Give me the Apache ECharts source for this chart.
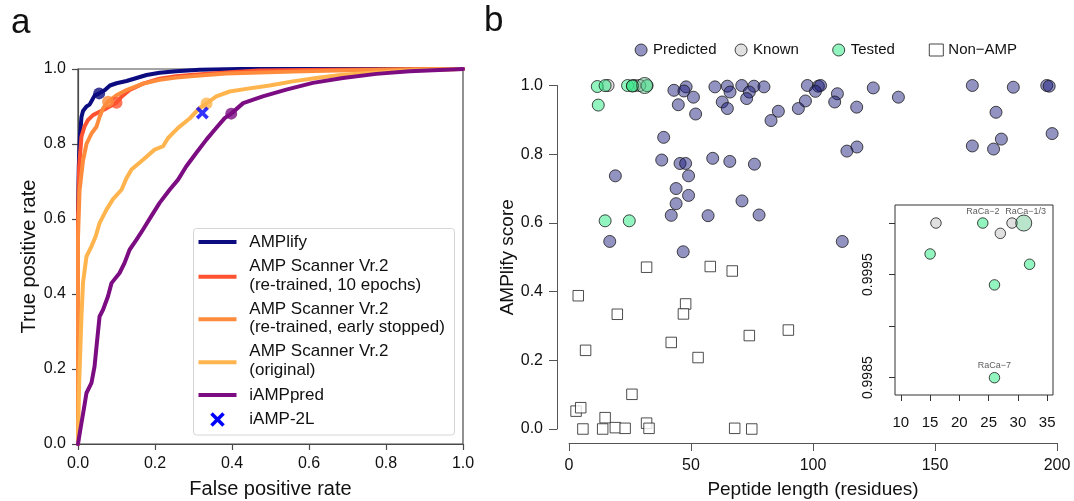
<!DOCTYPE html>
<html><head><meta charset="utf-8">
<script src="https://cdn.jsdelivr.net/npm/echarts@6/dist/echarts.min.js"></script>
<style>html,body{margin:0;padding:0;background:#fff}#c{width:1074px;height:501px}</style>
</head><body><div id="c"></div>
<script>
const FONT = '"Liberation Sans", Arial, Helvetica, sans-serif';

// ---------- Panel a : ROC curves ----------
const rocAmplify = [[0,0],[0,0.62],[0.002,0.74],[0.005,0.82],[0.009,0.872],[0.013,0.888],[0.022,0.9],[0.03,0.905],[0.035,0.914],[0.043,0.929],[0.055,0.935],[0.07,0.944],[0.083,0.956],[0.1,0.962],[0.126,0.968],[0.152,0.976],[0.178,0.984],[0.212,0.99],[0.255,0.994],[0.316,0.998],[0.42,1],[1,1]];
const rocScanner10 = [[0,0],[0,0.6],[0.003,0.74],[0.009,0.82],[0.017,0.847],[0.026,0.864],[0.039,0.877],[0.056,0.886],[0.074,0.895],[0.1,0.91],[0.113,0.926],[0.134,0.944],[0.169,0.961],[0.212,0.974],[0.255,0.981],[0.3,0.985],[0.385,0.991],[0.47,0.996],[0.65,0.998],[1,1]];
const rocScannerEarly = [[0,0],[0,0.55],[0.004,0.676],[0.013,0.756],[0.022,0.8],[0.035,0.828],[0.048,0.846],[0.056,0.872],[0.065,0.895],[0.078,0.913],[0.1,0.93],[0.126,0.944],[0.169,0.961],[0.212,0.971],[0.255,0.977],[0.3,0.981],[0.385,0.988],[0.558,0.993],[0.73,0.997],[0.905,1],[1,1]];
const rocScannerOrig = [[0,0],[0.003,0.163],[0.009,0.34],[0.013,0.43],[0.022,0.5],[0.035,0.527],[0.046,0.554],[0.056,0.589],[0.074,0.625],[0.091,0.653],[0.113,0.678],[0.126,0.709],[0.139,0.732],[0.169,0.758],[0.199,0.785],[0.221,0.794],[0.234,0.816],[0.26,0.843],[0.29,0.868],[0.316,0.896],[0.334,0.908],[0.359,0.927],[0.394,0.94],[0.437,0.947],[0.498,0.956],[0.558,0.967],[0.619,0.976],[0.688,0.985],[0.775,0.991],[0.861,0.996],[1,1]];
const rocIampred = [[0,0],[0.006,0.038],[0.015,0.092],[0.022,0.136],[0.035,0.163],[0.043,0.207],[0.049,0.269],[0.056,0.34],[0.065,0.358],[0.078,0.394],[0.087,0.429],[0.108,0.456],[0.121,0.483],[0.134,0.518],[0.152,0.545],[0.169,0.572],[0.19,0.607],[0.212,0.643],[0.238,0.678],[0.26,0.705],[0.281,0.74],[0.307,0.776],[0.333,0.811],[0.355,0.838],[0.381,0.869],[0.398,0.881],[0.429,0.909],[0.48,0.927],[0.541,0.945],[0.61,0.963],[0.688,0.976],[0.775,0.987],[0.861,0.994],[1,1]];
const markAmplify = [0.055,0.935];
const markScanner10 = [0.1,0.91];
const markScannerEarly = [0.078,0.913];
const markScannerOrig = [0.334,0.908];
const markIampred = [0.398,0.881];
const pointIamp2l = [0.323,0.883];
const rocTicks = [0,0.2,0.4,0.6,0.8,1.0];
const legendNamesA = ['AMPlify','AMP Scanner Vr.2\n(re-trained, 10 epochs)','AMP Scanner Vr.2\n(re-trained, early stopped)','AMP Scanner Vr.2\n(original)','iAMPpred','iAMP-2L'];

// ---------- Panel b : AMPlify score vs length ----------
const predicted = [[43.0,0.986],[48.0,0.996],[47.1,0.984],[51.0,0.966],[44.8,0.944],[51.9,0.917],[59.8,0.996],[64.9,0.998],[66.0,0.981],[70.8,1.0],[75.8,0.998],[73.9,0.981],[79.9,0.996],[62.8,0.952],[64.9,0.933],[72.8,0.962],[85.8,0.925],[82.8,0.898],[94.0,0.933],[96.9,0.955],[97.7,1.0],[102.2,0.998],[103.1,1.0],[101.0,0.983],[110.0,0.976],[108.9,0.952],[117.9,0.937],[124.7,0.993],[135.0,0.966],[165.3,1.0],[182.1,0.995],[195.8,1.0],[196.8,0.998],[175.0,0.922],[177.2,0.844],[165.3,0.824],[174.0,0.815],[198.0,0.86],[38.8,0.849],[38.0,0.783],[45.5,0.773],[47.8,0.773],[58.9,0.788],[65.9,0.779],[76.0,0.771],[113.9,0.809],[118.0,0.821],[19.0,0.737],[49.0,0.737],[43.9,0.70],[49.0,0.68],[43.9,0.656],[70.9,0.664],[41.9,0.622],[57.0,0.621],[77.9,0.623],[16.7,0.546],[112.0,0.546],[46.8,0.516]];
const known = [[16,1.0],[27,0.9999],[29,1.0]];
const tested = [[11.6,0.997],[14.8,0.9997],[24,1.0],[26,0.9994],[26,0.9985],[32,0.9996],[12,0.943],[14.8,0.606],[24.7,0.606]];
const testedHighlight = [[31,1.0]];
const nonAmp = [[31.8,0.471],[57.9,0.473],[66.9,0.46],[3.8,0.388],[19.8,0.334],[47.8,0.364],[46.9,0.335],[6.8,0.229],[41.9,0.252],[52.9,0.208],[73.9,0.272],[89.9,0.288],[25.8,0.101],[2.9,0.052],[4.8,0.062],[5.7,0.0],[14.8,0.033],[13.8,0.0],[19,0.004],[23,0.002],[31.8,0.017],[32.8,0.002],[67.9,0.002],[74.9,0.0]];
const lengthTicks = [0,50,100,150,200];
const scoreTicks = [0,0.2,0.4,0.6,0.8,1.0];
// inset (zoom on the top-scoring short peptides)
const insetKnown = [[16,1.0],[27,0.9999],[29,1.0]];
const insetTested = [[15,0.9997],[24,1.0],[26,0.9994],[26,0.9985],[32,0.9996]];
const insetTestedLabels = ['', 'RaCa\u22122', '', 'RaCa\u22127', ''];
const insetHighlight = [[31,1.0]];
const insetHighlightLabels = ['RaCa\u22121/3'];
const insetXTicks = [10,15,20,25,30,35];
const insetYTicks = [0.9985,0.999,0.9995,1.0];
const insetYLabels = [0.9985,0.9995];

const COL = {
  amplify:'#0c0c80', s10:'#ff5230', early:'#ff8c3c', orig:'#ffb44e', iamp:'#7c0c82', x:'#0000ff',
  pred:'rgba(18,18,120,0.57)', known:'rgba(190,190,190,0.6)', tested:'rgba(60,235,140,0.7)', big:'rgba(80,190,130,0.5)'
};
const AX = '#4a4a4a';

const chart = echarts.init(document.getElementById('c'), null, {renderer:'canvas'});

function rocLine(name, data, color){
  return {type:'line', name, xAxisIndex:0, yAxisIndex:0, data, showSymbol:false, symbol:'none',
    lineStyle:{color, width:4, join:'round', cap:'round'}, itemStyle:{color}, z:3, silent:true, animation:false};
}
function rocMark(data, color){
  return {type:'scatter', xAxisIndex:0, yAxisIndex:0, data:[data], symbolSize:12, itemStyle:{color}, z:4, silent:true, animation:false};
}
const border = {borderColor:'#1a1a1a', borderWidth:1};

const series = [
  rocLine('AMPlify', rocAmplify, COL.amplify),
  rocLine('Scanner10', rocScanner10, COL.s10),
  rocLine('ScannerEarly', rocScannerEarly, COL.early),
  rocLine('ScannerOrig', rocScannerOrig, COL.orig),
  rocLine('iAMPpred', rocIampred, COL.iamp),
  rocMark(markAmplify, COL.amplify), rocMark(markScanner10, COL.s10), rocMark(markScannerEarly, COL.early),
  rocMark(markScannerOrig, COL.orig), rocMark(markIampred, COL.iamp),
  {type:'scatter', xAxisIndex:0, yAxisIndex:0, data:[pointIamp2l], symbol:'path://M0,2L2,0L5,3L8,0L10,2L7,5L10,8L8,10L5,7L2,10L0,8L3,5Z', symbolSize:13, itemStyle:{color:COL.x}, z:5, silent:true},
  // panel b
  {type:'scatter', name:'Non\u2212AMP', xAxisIndex:1, yAxisIndex:1, data:nonAmp, symbol:'rect', symbolSize:10.5, clip:false,
    itemStyle:{color:'#ffffff', borderColor:'#222', borderWidth:1}, z:2},
  {type:'scatter', name:'Predicted', xAxisIndex:1, yAxisIndex:1, data:predicted, symbolSize:12, clip:false,
    itemStyle:Object.assign({color:COL.pred}, border), z:3},
  {type:'scatter', name:'Known', xAxisIndex:1, yAxisIndex:1, data:known, symbolSize:12, clip:false,
    itemStyle:Object.assign({color:COL.known}, border), z:3},
  {type:'scatter', name:'Tested', xAxisIndex:1, yAxisIndex:1, data:tested, symbolSize:12, clip:false,
    itemStyle:Object.assign({color:COL.tested}, border), z:4},
  {type:'scatter', name:'TestedHL', xAxisIndex:1, yAxisIndex:1, data:testedHighlight, symbolSize:16, clip:false,
    itemStyle:Object.assign({color:COL.big}, border), z:4},
  // inset
  {type:'scatter', name:'insetKnown', xAxisIndex:2, yAxisIndex:2, data:insetKnown, symbolSize:10.5, clip:false,
    itemStyle:Object.assign({color:COL.known}, border), z:12},
  {type:'scatter', name:'insetTested', xAxisIndex:2, yAxisIndex:2, clip:false,
    data:insetTested.map((p,i)=>({value:p, label:{show:!!insetTestedLabels[i], formatter:insetTestedLabels[i]}})),
    symbolSize:10.5, itemStyle:Object.assign({color:COL.tested}, border), z:13,
    label:{position:'inside', offset:[0,-12], fontSize:9, color:'#333', fontFamily:FONT}},
  {type:'scatter', name:'insetHL', xAxisIndex:2, yAxisIndex:2, clip:false,
    data:insetHighlight.map((p,i)=>({value:p, label:{show:true, formatter:insetHighlightLabels[i]}})),
    symbolSize:16, itemStyle:Object.assign({color:COL.big}, border), z:13,
    label:{position:'inside', offset:[2,-12], fontSize:9, color:'#333', fontFamily:FONT}}
];

// left legend (panel a) drawn as graphic
const legA = {x:193.5, y:228.5, w:261, h:206.5};
const legRows = [242, 275.8, 318.3, 360.8, 395, 419.3];
const legColors = [COL.amplify, COL.s10, COL.early, COL.orig, COL.iamp];
const graphics = [
  {type:'text', x:11, y:23, style:{text:'a', font:'35px '+FONT, fill:'#111', verticalAlign:'middle'}},
  {type:'text', x:484, y:21, style:{text:'b', font:'35px '+FONT, fill:'#111', verticalAlign:'middle'}},
  {type:'rect', shape:{x:legA.x, y:legA.y, width:legA.w, height:legA.h, r:3}, style:{fill:'rgba(255,255,255,0.85)', stroke:'#d6d6d6', lineWidth:1}, z:10}
];
legColors.forEach((c,i)=>{
  const yy = [242, 276.7, 319.3, 362.3, 395][i];
  graphics.push({type:'line', shape:{x1:198.5, y1:yy, x2:236.5, y2:yy}, style:{stroke:c, lineWidth:4}, z:11});
});
graphics.push({type:'line', shape:{x1:211.5, y1:413.5, x2:223.5, y2:425.5}, style:{stroke:COL.x, lineWidth:3.6}, z:11});
graphics.push({type:'line', shape:{x1:223.5, y1:413.5, x2:211.5, y2:425.5}, style:{stroke:COL.x, lineWidth:3.6}, z:11});
legendNamesA.forEach((t,i)=>{
  graphics.push({type:'text', x:249.3, y:legRows[i], style:{text:t, font:'17px '+FONT, fill:'#111', verticalAlign:'middle', lineHeight:18.5}, z:11});
});

function rightLegend(name, left, icon, style){
  return {show:true, left, top:37.5, orient:'horizontal', itemWidth:14, itemHeight:12, itemGap:0, selectedMode:false,
    data:[{name, icon, itemStyle:style}], textStyle:{fontSize:15, fontFamily:FONT, color:'#111'}};
}

const tickLbl = {fontFamily:FONT, fontSize:16, color:'#111'};
const option = {
  animation:false,
  backgroundColor:'#fff',
  textStyle:{fontFamily:FONT},
  graphic:graphics,
  legend:[
    rightLegend('Predicted', 629.6, 'circle', {color:COL.pred, borderColor:'#1a1a1a', borderWidth:1}),
    rightLegend('Known', 729.6, 'circle', {color:'#d8d8d8', borderColor:'#1a1a1a', borderWidth:1}),
    rightLegend('Tested', 827.2, 'circle', {color:COL.tested, borderColor:'#1a1a1a', borderWidth:1}),
    rightLegend('Non\u2212AMP', 923.8, 'rect', {color:'#fff', borderColor:'#1a1a1a', borderWidth:1})
  ],
  grid:[
    {left:78, top:69, width:385, height:375, show:true, borderColor:AX, borderWidth:1.2, backgroundColor:'transparent', outerBoundsMode:'none', containLabel:false},
    {left:569, top:85.5, width:488, height:343.5, show:false, outerBoundsMode:'none', containLabel:false},
    {left:895, top:205, width:158, height:190, show:true, borderColor:'#333', borderWidth:1, backgroundColor:'#fff', outerBoundsMode:'none', containLabel:false}
  ],
  xAxis:[
    {gridIndex:0, type:'value', min:0, max:1, interval:0.2,
      axisLine:{show:true, onZero:false, lineStyle:{color:AX, width:1.2}},
      axisTick:{show:true, length:6, lineStyle:{color:AX, width:1.2}},
      axisLabel:{...tickLbl, margin:12, formatter:v=>v.toFixed(1)}, splitLine:{show:false},
      name:'False positive rate', nameLocation:'middle', nameGap:35, nameTextStyle:{fontFamily:FONT, fontSize:20, color:'#111'}},
    {gridIndex:1, type:'value', min:0, max:200, interval:50, offset:14,
      axisLine:{show:true, onZero:false, lineStyle:{color:'#555', width:1}},
      axisTick:{show:true, length:8, lineStyle:{color:'#555'}},
      axisLabel:{...tickLbl, margin:15}, splitLine:{show:false},
      name:'Peptide length (residues)', nameLocation:'middle', nameGap:37, nameTextStyle:{fontFamily:FONT, fontSize:19, color:'#111'}},
    {gridIndex:2, type:'value', min:9, max:36,
      axisLine:{show:false, onZero:false},
      axisTick:{show:true, length:6, customValues:insetXTicks, lineStyle:{color:'#333'}},
      axisLabel:{...tickLbl, fontSize:15, margin:20, customValues:insetXTicks}, splitLine:{show:false}}
  ],
  yAxis:[
    {gridIndex:0, type:'value', min:0, max:1, interval:0.2,
      axisLine:{show:true, onZero:false, lineStyle:{color:AX, width:1.2}},
      axisTick:{show:true, length:6, lineStyle:{color:AX, width:1.2}},
      axisLabel:{...tickLbl, margin:12, formatter:v=>v.toFixed(1)}, splitLine:{show:false},
      name:'True positive rate', nameLocation:'middle', nameGap:35, nameTextStyle:{fontFamily:FONT, fontSize:20, color:'#111'}},
    {gridIndex:1, type:'value', min:0, max:1, interval:0.2, offset:12,
      axisLine:{show:true, onZero:false, lineStyle:{color:'#555', width:1}},
      axisTick:{show:true, length:8, lineStyle:{color:'#555'}},
      axisLabel:{...tickLbl, margin:14, formatter:v=>v.toFixed(1)}, splitLine:{show:false},
      name:'AMPlify score', nameLocation:'middle', nameGap:40, nameTextStyle:{fontFamily:FONT, fontSize:19, color:'#111'}},
    {gridIndex:2, type:'value', min:0.998332, max:1.000175,
      axisLine:{show:false, onZero:false},
      axisTick:{show:true, length:6, customValues:insetYTicks, lineStyle:{color:'#333'}},
      axisLabel:{...tickLbl, fontSize:14, margin:20, rotate:90, customValues:insetYLabels, formatter:v=>Number(v).toFixed(4)}, splitLine:{show:false}}
  ],
  series
};
chart.setOption(option);
</script></body></html>
